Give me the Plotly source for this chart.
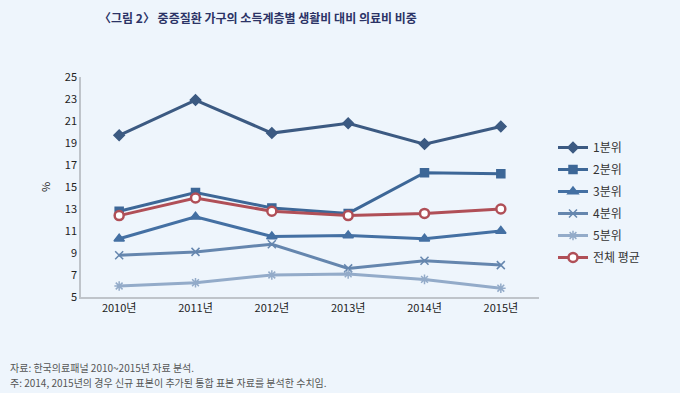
import plotly.graph_objects as go

years = ["2010년", "2011년", "2012년", "2013년", "2014년", "2015년"]
q1 = [19.7, 22.9, 19.9, 20.8, 18.9, 20.5]
q2 = [12.8, 14.5, 13.1, 12.6, 16.3, 16.2]
q3 = [10.3, 12.3, 10.5, 10.6, 10.3, 11.0]
q4 = [8.8, 9.1, 9.8, 7.6, 8.3, 7.9]
q5 = [6.0, 6.3, 7.0, 7.1, 6.6, 5.8]
avg = [12.4, 14.0, 12.8, 12.4, 12.6, 13.0]

series = [
    ("1분위", q1, "#3C5A82", "diamond", 8),
    ("2분위", q2, "#3D6797", "square", 8),
    ("3분위", q3, "#4470A3", "triangle-up", 9),
    ("4분위", q4, "#6586AE", "x-thin", 8),
    ("5분위", q5, "#93ABC9", "asterisk", 8),
]

fig = go.Figure()
for i, (name, vals, color, sym, size) in enumerate(series):
    fig.add_trace(go.Scatter(
        x=years, y=vals, name=name, mode="lines+markers", legendgroup=f"g{i}",
        line=dict(color=color, width=3),
        marker=dict(symbol=sym, size=size, color=color,
                    line=dict(color=color, width=1.5)),
    ))
fig.add_trace(go.Scatter(
    x=years, y=avg, name="전체 평균", mode="lines+markers", legendgroup="g6",
    line=dict(color="#B04F57", width=3),
    marker=dict(symbol="circle", size=9, color="white",
                line=dict(color="#B04F57", width=2.5)),
))

bg = "#EEF5FC"
PX0, PX1, PY0, PY1 = 81, 539, 77, 297
W, H = PX1 - PX0, PY1 - PY0


def px(x):
    return (x - PX0) / W


def py(y):
    return (PY1 - y) / H


fig.update_layout(
    width=680, height=393,
    paper_bgcolor=bg, plot_bgcolor=bg,
    margin=dict(l=PX0, r=680 - PX1, t=PY0, b=393 - PY1),
    font=dict(family="Noto Sans CJK KR", color="#333333", size=11),
    showlegend=True,
    legend=dict(x=px(553), y=py(133), xanchor="left", yanchor="top",
                bgcolor="rgba(0,0,0,0)", font=dict(size=12, color="#333333"),
                tracegroupgap=3, itemwidth=30),
    xaxis=dict(type="category", range=[-0.5, 5.5], showgrid=False,
               showline=True, linecolor="#BFC4CA", linewidth=1.5,
               ticks="", tickfont=dict(size=11, color="#222222", family="Noto Sans CJK KR"),
               zeroline=False),
    yaxis=dict(range=[5, 25], dtick=2, tick0=5, showgrid=False,
               showline=True, linecolor="#BFC4CA", linewidth=1.5,
               ticks="", tickfont=dict(size=11, color="#222222"),
               zeroline=False,
               title=dict(text="%", font=dict(size=11, color="#222222"), standoff=12)),
    annotations=[
        dict(text="<b>〈그림 2〉 중증질환 가구의 소득계층별 생활비 대비 의료비 비중</b>",
             xref="paper", yref="paper", x=px(258), y=py(17),
             xanchor="center", yanchor="middle", showarrow=False,
             font=dict(size=12, color="#2B3366", family="Noto Sans CJK KR")),
        dict(text="자료: 한국의료패널 2010~2015년 자료 분석.",
             xref="paper", yref="paper", x=px(8), y=py(367),
             xanchor="left", yanchor="middle", showarrow=False, align="left",
             font=dict(size=10, color="#555555", family="Noto Sans CJK KR")),
        dict(text="주: 2014, 2015년의 경우 신규 표본이 추가된 통합 표본 자료를 분석한 수치임.",
             xref="paper", yref="paper", x=px(8), y=py(382),
             xanchor="left", yanchor="middle", showarrow=False, align="left",
             font=dict(size=10, color="#555555", family="Noto Sans CJK KR")),
    ],
)

fig.write_html("out.html", config={"displayModeBar": False},
               post_script="document.body.style.margin='0';document.body.style.background='" + bg + "';")
